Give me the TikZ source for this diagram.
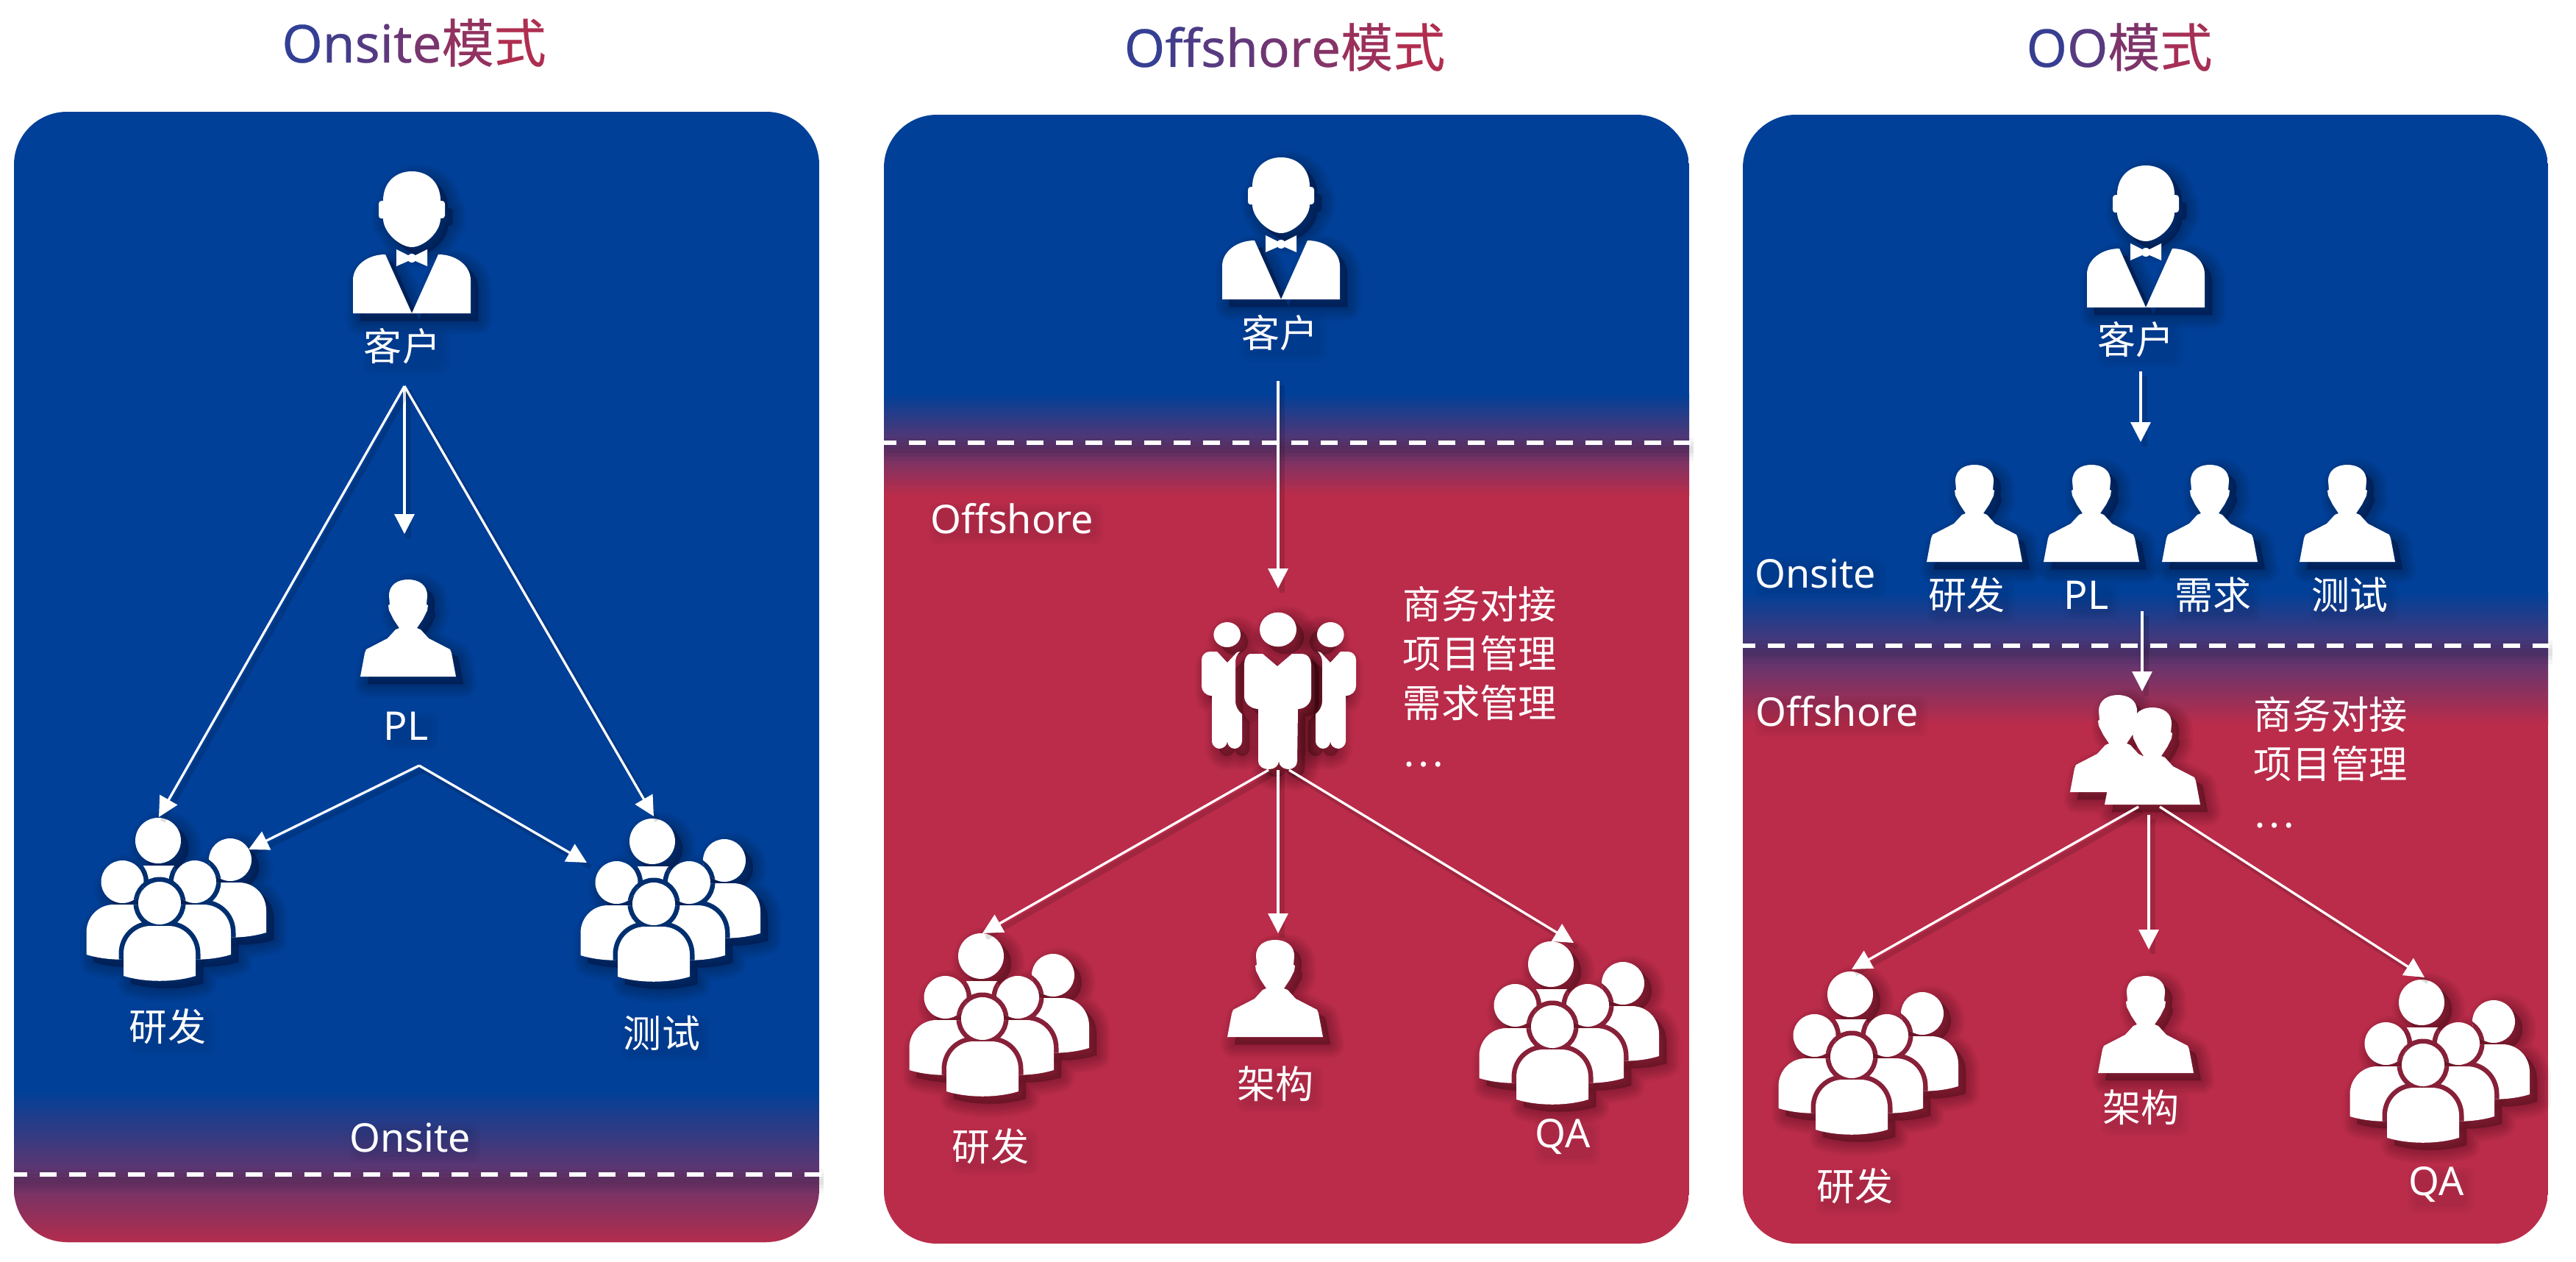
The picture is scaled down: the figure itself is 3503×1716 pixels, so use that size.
\documentclass[tikz,border=0pt]{standalone}
\usepackage{fontspec}
\setmainfont{Noto Sans CJK SC}
\newfontfamily\lat{Noto Sans}
\newfontfamily\latb[FakeBold=.4]{Noto Sans}
\newfontfamily\zhb[FakeBold=.4]{Noto Sans CJK SC}
\newcommand\latl{\lat\fontsize{15.3}{19}\selectfont}
\usetikzlibrary{arrows.meta,calc}
\definecolor{pblue}{RGB}{0,64,152}
\definecolor{pred}{RGB}{186,44,74}
\definecolor{dkblue}{RGB}{0,47,112}
\definecolor{dkred}{RGB}{135,32,56}
\definecolor{tblue}{RGB}{44,64,152}
\definecolor{tred}{RGB}{186,44,74}
\pgfdeclarelayer{panel}\pgfdeclarelayer{shad}
\pgfsetlayers{panel,shad,main}
\newcommand\softshadow[1]{\begin{scope}[shift={(10,10)}]
  \foreach \w in {.3,.8,1.3,1.8,2.3,2.8,3.3,3.8}{\draw[black,fill=black,line join=round,opacity=.03,line width=\w mm] #1;}
\end{scope}}
% people in a crowd
\newcommand\PersonPath[2]{(#1,#2-107) circle[radius=29] (#1-49,#2-8) -- (#1-49,#2-38) .. controls (#1-49,#2-60) and (#1-32,#2-76) .. (#1-12,#2-76) -- (#1+12,#2-76) .. controls (#1+32,#2-76) and (#1+49,#2-60) .. (#1+49,#2-38) -- (#1+49,#2-8) .. controls (#1+20,#2+1) and (#1-20,#2+1) .. cycle }
\newcommand\TopP{(-2,-192) circle[radius=31] (-22,-158) -- (20,-158) -- (20,-120) -- (-22,-120) -- cycle }
\newcommand\BackP{\PersonPath{96}{-59}}
\newcommand\LeftP{\PersonPath{-50.5}{-29}}
\newcommand\MidP{\PersonPath{48}{-29}}
\newcommand\FrontP{\PersonPath{0}{0}}
% single bust: flat base 5 units above the origin
\newcommand\BustPath[2]{(#1-26,#2-115) .. controls (#1-26,#2-130) and (#1-14,#2-137) .. (#1,#2-137) .. controls (#1+14,#2-137) and (#1+26,#2-130) .. (#1+26,#2-115) -- (#1+25,#2-103) -- (#1+27,#2-102) -- (#1+26,#2-95) -- (#1+20,#2-83) -- (#1+12,#2-71) -- (#1+17,#2-69) -- (#1+28,#2-57) -- (#1+57,#2-42) -- (#1+59,#2-37) -- (#1+65,#2-5) -- (#1-65,#2-5) -- (#1-59,#2-37) -- (#1-57,#2-42) -- (#1-28,#2-57) -- (#1-17,#2-69) -- (#1-12,#2-71) -- (#1-20,#2-83) -- (#1-26,#2-95) -- (#1-27,#2-102) -- (#1-25,#2-103) -- cycle }
% customer
\newcommand\BossHead{(0,-90) .. controls (-16,-90) and (-39,-110) .. (-39,-129) -- (-42,-129) .. controls (-44,-129) and (-45,-131) .. (-45,-133) -- (-45,-149) .. controls (-45,-151) and (-44,-153) .. (-39,-153) .. controls (-39,-178) and (-22,-193) .. (0,-193) .. controls (22,-193) and (39,-178) .. (39,-153) .. controls (44,-153) and (45,-151) .. (45,-149) -- (45,-133) .. controls (45,-131) and (44,-129) .. (39,-129) .. controls (39,-110) and (16,-90) .. (0,-90) -- cycle }
\newcommand\BossBow{(-21,-87) -- (-5,-79) -- (5,-79) -- (21,-87) -- (21,-64) -- (5,-71) -- (-5,-71) -- (-21,-64) -- cycle (0,-75) circle[radius=6] }
\newcommand\BossJacket{(0,0) -- (-80,0) -- (-80,-45) .. controls (-80,-65) and (-60,-80) .. (-36,-80) -- cycle (0,0) -- (80,0) -- (80,-45) .. controls (80,-65) and (60,-80) .. (36,-80) -- cycle }
% group of three
\newcommand\CentreMan{(0,-190) ellipse[x radius=25,y radius=23.3] (-38,-157) -- (-21,-157) -- (-1,-140) -- (19,-157) -- (33,-157) .. controls (40,-157) and (45,-150) .. (45,-143) -- (45,-99) .. controls (45,-90) and (37,-82) .. (27,-82) -- (26,-11) .. controls (26,-4) and (20,0) .. (14,0) .. controls (7,0) and (1,-5) .. (1,-11) .. controls (1,-5) and (-5,0) .. (-12,0) .. controls (-20,0) and (-27,-4) .. (-27,-11) -- (-27,-82) .. controls (-37,-82) and (-46,-90) .. (-46,-99) -- (-46,-143) .. controls (-46,-150) and (-42,-157) .. (-38,-157) -- cycle }
\newcommand\SideMan{(-69.3,-183) ellipse[x radius=18.3,y radius=17] (-93,-160) -- (-83,-160) -- (-69,-145) -- (-56,-159) -- (-52,-160) .. controls (-56,-156) and (-58,-151) .. (-58,-146) -- (-58,-93) .. controls (-58,-85) and (-54,-79) .. (-49,-75) -- (-49,-38) .. controls (-49,-33) and (-54,-28) .. (-59,-28) .. controls (-65,-28) and (-69,-33) .. (-69,-38) .. controls (-69,-33) and (-74,-28) .. (-80,-28) .. controls (-85,-28) and (-90,-33) .. (-90,-38) -- (-90,-100) .. controls (-98,-100) and (-104,-106) .. (-104,-113) -- (-104,-149) .. controls (-104,-155) and (-99,-160) .. (-93,-160) -- cycle }
\tikzset{
  pics/crowd/.style={code={
    \softshadow{\TopP\BackP\LeftP\MidP\FrontP}
    \fill[white] \TopP;
    \fill[white] \BackP;
    \begin{scope}\clip \TopP; \draw[#1,line width=1.3mm] \LeftP;\end{scope}
    \fill[white] \LeftP;
    \begin{scope}\clip \TopP\BackP\LeftP; \draw[#1,line width=1.3mm] \MidP;\end{scope}
    \fill[white] \MidP;
    \begin{scope}\clip \TopP\BackP\LeftP\MidP; \draw[#1,line width=1.3mm] \FrontP;\end{scope}
    \fill[white] \FrontP;
  }},
  pics/bust/.style={code={
    \softshadow{\BustPath{0}{0}}
    \fill[white] \BustPath{0}{0};
  }},
  pics/couple/.style={code={
    \softshadow{\BustPath{-47}{-17}\BustPath{0}{0}}
    \fill[white] \BustPath{-47}{-17};
    \fill[white] \BustPath{0}{0};
  }},
  pics/boss/.style={code={
    \softshadow{\BossHead\BossJacket}
    \fill[white] \BossHead;
    \fill[white] \BossBow;
    \fill[white] \BossJacket;
  }},
  pics/trio/.style={code={
    \softshadow{\SideMan}
    \begin{scope}[xscale=-1,xshift=-.2mm]\softshadow{\SideMan}\end{scope}
    \softshadow{\CentreMan}
    \fill[white] \SideMan;
    \begin{scope}[xscale=-1,xshift=-.2mm]\fill[white] \SideMan;\end{scope}
    \fill[white] \CentreMan;
  }},
  lab/.style={text=white,inner sep=0pt,font=\fontsize{14.8}{19}\selectfont},
  blocktext/.style={lab,align=left,anchor=north west,font=\fontsize{14.9}{19.06}\selectfont},
  titletext/.style={inner sep=0pt,font=\fontsize{20.2}{24}\selectfont},
  conn/.style={draw=white,line width=.33mm,-{Triangle[length=2.7mm,width=2.7mm]},
    preaction={draw=black,opacity=.13,line width=.7mm,arrows=-,transform canvas={shift={(.5mm,-.6mm)}}}},
  dashln/.style={draw=white,line width=.6mm,dash pattern=on 2.3mm off 1.7mm},
}
\newcommand\panelbox[6]{\begin{pgfonlayer}{panel}\begin{scope}
  \clip[rounded corners=7.2mm] (#1,#2) rectangle (#3,#4);
  \fill[pblue] (#1,#2) rectangle (#3,#5+1);
  \shade[top color=pblue,bottom color=pred] (#1,#5) rectangle (#3,#6);
  \fill[pred] (#1,#6-1) rectangle (#3,#4);
\end{scope}\end{pgfonlayer}}
\newcommand\dashrule[4]{%
  \foreach \w in {3.2,2,1}{\draw[black,opacity=.04,line width=\w mm] (#1,#3+9) -- (#2+6,#3+9);}
  \draw[dashln,dash phase=#4 mm] (#1,#3) -- (#2+3,#3);}
\newcommand\tshadow[1]{\begin{pgfonlayer}{shad}\foreach \g in {-3,1,5}{
  \fill[black,opacity=.025,rounded corners=1mm] ($(#1.north west)+(5-\g,6-\g)$) rectangle ($(#1.south east)+(7+\g,8+\g)$);}\end{pgfonlayer}}
\newcommand\lbl[3]{\node[lab] (#1) at (#2) {#3}; \tshadow{#1}}
\newcommand\tc[2]{\textcolor{tred!#1!tblue}{#2}}
\begin{document}
\begin{tikzpicture}[x=.1mm,y=-.1mm]
\useasboundingbox (0,0) rectangle (3503,1716);
% titles
\node[titletext] (t1) at (563,58) {{\latb\tc{4}{O}\tc{16}{n}\tc{28}{s}\tc{36}{i}\tc{44}{t}\tc{54}{e}}{\zhb\tc{72}{模}\tc{92}{式}}};
\node[titletext] (t2) at (1747,64) {{\latb\tc{6}{O}\tc{15}{f}\tc{23}{f}\tc{31}{s}\tc{39}{h}\tc{48}{o}\tc{56}{r}\tc{63}{e}}{\zhb\tc{78}{模}\tc{94}{式}}};
\node[titletext] (t3) at (2882,64) {{\latb\tc{8}{O}\tc{30}{O}}{\zhb\tc{58}{模}\tc{86}{式}}};
% panels
\panelbox{19}{152}{1114}{1689}{1483}{1697}
\panelbox{1202}{156}{2297}{1691}{535}{673}
\panelbox{2370}{156}{3465}{1691}{805}{985}
\dashrule{19}{1114}{1597}{.5}
\dashrule{1202}{2297}{602}{.6}
\dashrule{2370}{3465}{878}{.6}

% ---------- panel 1 ----------
\coordinate (a1) at (560,426); \pic at (a1) {boss};
\lbl{a1t}{547,471}{客户}
\coordinate (a2) at (555,925); \pic at (a2) {bust};
\lbl{a2t}{552,987}{\latl PL}
\coordinate (a3) at (217,1335); \pic at (a3) {crowd=dkblue};
\lbl{a3t}{228,1396}{研发}
\coordinate (a4) at (889,1336); \pic at (a4) {crowd=dkblue};
\lbl{a4t}{900,1405}{测试}
\lbl{a5t}{558,1547}{\latl Onsite}
\coordinate (as) at (550,525);
\coordinate (ap) at (550,726);
\coordinate (al) at (216,1111);
\coordinate (ar) at (889,1110);
\coordinate (bs) at (570,1041);
\coordinate (bl) at (338,1155);
\coordinate (br) at (798,1173);
\draw[conn] (as) -- (ap);
\draw[conn] (as) -- (al);
\draw[conn] (as) -- (ar);
\draw[conn] (bs) -- (bl);
\draw[conn] (bs) -- (br);

% ---------- panel 2 ----------
\coordinate (c1) at (1742,407); \pic at (c1) {boss};
\lbl{c1t}{1740,453}{客户}
\lbl{c0t}{1376,705}{\latl Offshore}
\coordinate (c2) at (1738,1046); \pic at (c2) {trio};
\node[blocktext] (c2t) at (1907,797) {商务对接\\项目管理\\需求管理\\…};
\coordinate (c3) at (1336,1492); \pic at (c3) {crowd=dkred};
\lbl{c3t}{1347,1559}{研发}
\coordinate (c4) at (1734,1415); \pic at (c4) {bust};
\lbl{c4t}{1734,1474}{架构}
\coordinate (c5) at (2111,1503); \pic at (c5) {crowd=dkred};
\lbl{c5t}{2125,1546}{\latl QA}
\coordinate (cs) at (1738,518);
\coordinate (ct) at (1738,800);
\coordinate (d1) at (1725,1047);
\coordinate (d2) at (1738,1047);
\coordinate (d3) at (1753,1047);
\coordinate (e1) at (1336,1269);
\coordinate (e2) at (1738,1269);
\coordinate (e3) at (2140,1282);
\draw[conn] (cs) -- (ct);
\draw[conn] (d1) -- (e1);
\draw[conn] (d2) -- (e2);
\draw[conn] (d3) -- (e3);

% ---------- panel 3 ----------
\coordinate (f1) at (2918,418); \pic at (f1) {boss};
\lbl{f1t}{2904,462}{客户}
\coordinate (f2) at (2685,769); \pic at (f2) {bust};
\lbl{f2t}{2674,809}{研发}
\coordinate (f3) at (2844,769); \pic at (f3) {bust};
\lbl{f3t}{2837,809}{\latl PL}
\coordinate (f4) at (3005,769); \pic at (f4) {bust};
\lbl{f4t}{3009,809}{需求}
\coordinate (f5) at (3192,769); \pic at (f5) {bust};
\lbl{f5t}{3195,809}{测试}
\lbl{f0t}{2469,780}{\latl Onsite}
\lbl{g0t}{2498,967}{\latl Offshore}
\coordinate (g1) at (2927,1099); \pic at (g1) {couple};
\node[blocktext] (g1t) at (3064,947) {商务对接\\项目管理\\…};
\coordinate (g3) at (2518,1544); \pic at (g3) {crowd=dkred};
\lbl{g3t}{2522,1613}{研发}
\coordinate (g4) at (2918,1464); \pic at (g4) {bust};
\lbl{g4t}{2911,1506}{架构}
\coordinate (g5) at (3295,1555); \pic at (g5) {crowd=dkred};
\lbl{g5t}{3313,1611}{\latl QA}
\coordinate (fs) at (2911,505);
\coordinate (ft) at (2911,601);
\coordinate (gs) at (2913,831);
\coordinate (gt) at (2913,940);
\coordinate (h1) at (2908,1097);
\coordinate (h2) at (2922,1108);
\coordinate (h3) at (2937,1097);
\coordinate (i1) at (2518,1318);
\coordinate (i2) at (2922,1291);
\coordinate (i3) at (3297,1329);
\draw[conn] (fs) -- (ft);
\draw[conn] (gs) -- (gt);
\draw[conn] (h1) -- (i1);
\draw[conn] (h2) -- (i2);
\draw[conn] (h3) -- (i3);
\end{tikzpicture}
\end{document}
